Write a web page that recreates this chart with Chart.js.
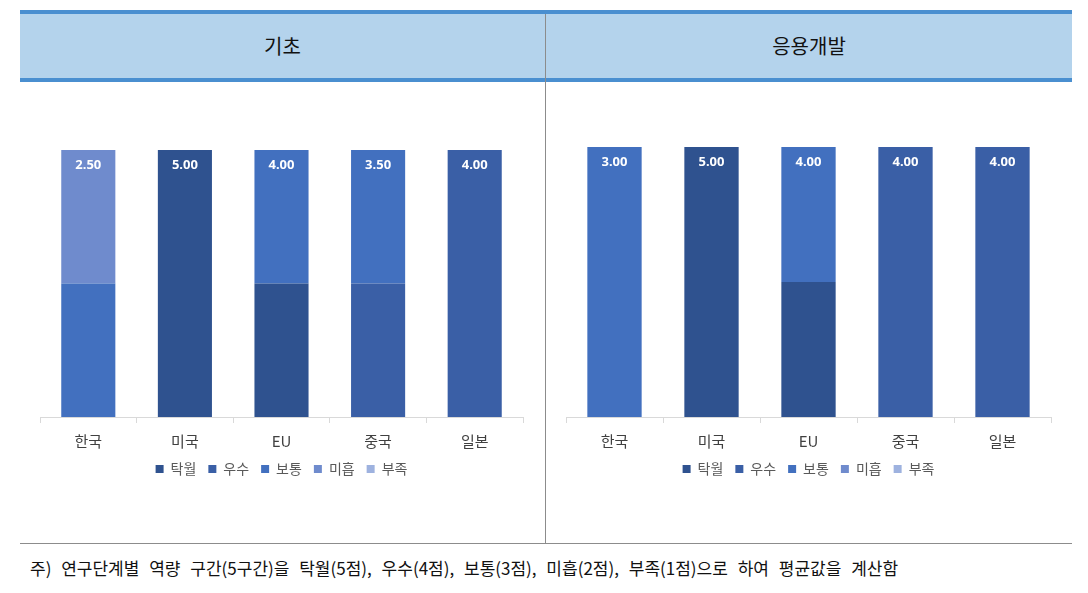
<!DOCTYPE html>
<html>
<head>
<meta charset="utf-8">
<script src="https://cdn.jsdelivr.net/npm/chart.js@4"></script>
<style>
  body { margin: 0; background: #fff; width: 1088px; height: 593px; position: relative; overflow: hidden;
         font-family: "Noto Sans CJK KR", sans-serif; }
  .band { position: absolute; left: 20px; top: 10px; width: 1052px; height: 64px;
          background: #b4d3ec; border-top: 4px solid #4a8fd0; border-bottom: 4px solid #4a8fd0; }
  .title { position: absolute; top: 10px; height: 72px; line-height: 72px; font-size: 20px; color: #111; text-align: center; }
  .vline { position: absolute; left: 545px; top: 14px; width: 1px; height: 530px; background: #8c8c8c; }
  .hline { position: absolute; left: 20px; top: 543px; width: 1052px; height: 1px; background: #8c8c8c; }
  .note { position: absolute; left: 30px; top: 555px; font-size: 17px; word-spacing: 6px; color: #111; white-space: nowrap; }
  .box { position: absolute; top: 82px; height: 458px; }
</style>
</head>
<body>
<div class="band"></div>
<div class="vline"></div>
<div class="title" style="left:20px;width:525px">기초</div>
<div class="title" style="left:546px;width:526px">응용개발</div>
<div class="box" style="left:20px;width:525px"><canvas id="basic-chart"></canvas></div>
<div class="box" style="left:546px;width:526px"><canvas id="applied-chart"></canvas></div>
<div class="hline"></div>
<div class="note">주) 연구단계별 역량 구간(5구간)을 탁월(5점), 우수(4점), 보통(3점), 미흡(2점), 부족(1점)으로 하여 평균값을 계산함</div>
<script>
const countries = ['한국', '미국', 'EU', '중국', '일본']
const levels = ['탁월', '우수', '보통', '미흡', '부족']
const levelColors = ['#2f528f', '#3a5fa6', '#4270bf', '#6f8bcd', '#9eb2df']

// share (%) of each level per country, 기초
const basicShares = [
    [0, 100, 50, 0, 0],   // 탁월
    [0, 0, 0, 50, 100],   // 우수
    [50, 0, 50, 50, 0],   // 보통
    [50, 0, 0, 0, 0],     // 미흡
    [0, 0, 0, 0, 0]       // 부족
]
const basicAvg = [2.5, 5.0, 4.0, 3.5, 4.0]

// share (%) of each level per country, 응용개발
const appliedShares = [
    [0, 100, 50, 0, 0],
    [0, 0, 0, 100, 100],
    [100, 0, 50, 0, 0],
    [0, 0, 0, 0, 0],
    [0, 0, 0, 0, 0]
]
const appliedAvg = [3.0, 5.0, 4.0, 4.0, 4.0]

const avgLabels = {
    id: 'avgLabels',
    afterDatasetsDraw(chart, args, opts) {
        const ctx = chart.ctx
        ctx.save()
        ctx.fillStyle = '#fff'
        ctx.font = 'bold 13px "Noto Sans"'
        ctx.textAlign = 'center'
        ctx.textBaseline = 'middle'
        opts.values.forEach((v, j) => {
            let top = null
            chart.data.datasets.forEach((ds, i) => {
                if (ds.data[j] > 0) top = chart.getDatasetMeta(i).data[j]
            })
            if (top) ctx.fillText(v.toFixed(2), top.x, top.y + 15)
        })
        ctx.restore()
    }
}

function makeChart(el, shares, avg, pad) {
    return new Chart(el, {
        type: 'bar',
        data: {
            labels: countries,
            datasets: levels.map((name, i) => ({
                label: name,
                data: shares[i],
                backgroundColor: levelColors[i],
                categoryPercentage: 1,
                barPercentage: 0.56
            }))
        },
        options: {
            responsive: true,
            maintainAspectRatio: false,
            animation: false,
            layout: { padding: pad },
            scales: {
                x: {
                    stacked: true,
                    afterFit: s => { s.height -= 9 },
                    grid: { drawOnChartArea: false, tickLength: 6, color: '#d9d9d9' },
                    border: { color: '#d9d9d9' },
                    ticks: { color: '#404040', padding: 9, font: { size: 15, family: '"Noto Sans CJK KR"' } }
                },
                y: { stacked: true, display: false, min: 0, max: 100 }
            },
            plugins: {
                legend: {
                    position: 'bottom',
                    labels: {
                        boxWidth: 8, boxHeight: 8, padding: 12,
                        color: '#595959',
                        font: { size: 14, family: '"Noto Sans CJK KR"' }
                    }
                },
                tooltip: { enabled: false },
                avgLabels: { values: avg }
            }
        },
        plugins: [avgLabels]
    })
}

makeChart(document.getElementById('basic-chart'), basicShares, basicAvg, { top: 68, left: 20, right: 22, bottom: 54 })
makeChart(document.getElementById('applied-chart'), appliedShares, appliedAvg, { top: 65, left: 20, right: 21, bottom: 54 })
</script>
</body>
</html>
